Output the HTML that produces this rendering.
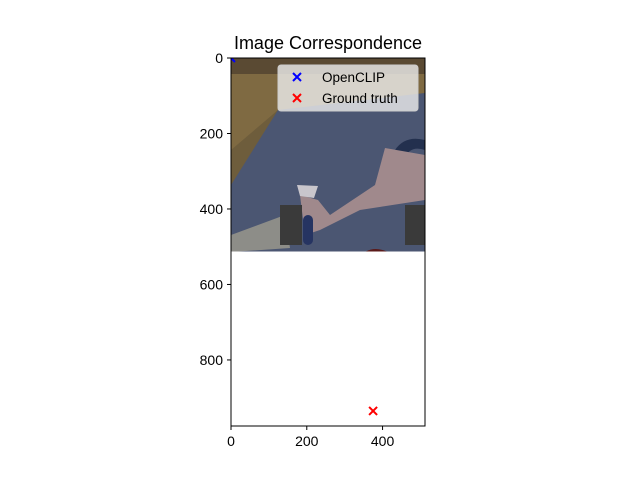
<!DOCTYPE html>
<html><head><meta charset="utf-8"><style>
body{margin:0;background:#fff}
svg{display:block;font-family:"Liberation Sans","DejaVu Sans",sans-serif}
</style></head><body>
<svg width="640" height="480" viewBox="0 0 640 480">
<defs><clipPath id="ax"><rect x="231" y="58" width="194" height="368"/></clipPath>
<clipPath id="ph"><rect x="231" y="58" width="194" height="193.5"/></clipPath></defs>
<rect width="640" height="480" fill="#fff"/>
<g clip-path="url(#ph)">
<rect x="231" y="58" width="194" height="194" fill="#6e5d3c"/>
<rect x="231" y="58" width="194" height="16" fill="#5a4a33"/>
<polygon points="231,74 425,74 425,93 278,110 231,150" fill="#7f6a42"/>
<polygon points="231,185 278,110 425,93 425,252 231,252" fill="#4b5672"/>
<path d="M395,150 Q405,135 425,140 L425,150 Q410,145 405,158 Z" fill="#23304e"/>
<polygon points="300,195 318,200 330,215 375,185 385,148 425,155 425,200 360,210 320,230 305,235" fill="#a0898c"/>
<polygon points="297,185 318,186 314,198 300,196" fill="#c9c6cc"/>
<rect x="303" y="215" width="10" height="30" rx="5" fill="#263462"/>
<polygon points="231,235 285,215 290,248 231,252" fill="#8d8d88"/>
<rect x="280" y="205" width="22" height="40" fill="#3a3a3a"/>
<rect x="405" y="205" width="20" height="40" fill="#3a3a3a"/>
<path d="M365,252 Q375,246 388,252 Z" fill="#5a1a1a"/>
</g>
<g clip-path="url(#ax)">
<g id="marks"></g>
</g>
<rect x="231" y="58" width="194" height="368" fill="none" stroke="#000" stroke-width="1"/>
<g id="ticks" font-size="14" fill="#000"></g>
<text x="328" y="49" font-size="18" text-anchor="middle">Image Correspondence</text>
<g>
<rect x="278" y="65" width="140" height="46" rx="3" fill="#eee" fill-opacity="0.8" stroke="#ccc"/>
<path d="M293,73 l8,8 M301,73 l-8,8" stroke="#00f" stroke-width="2"/>
<text x="322" y="82" font-size="13.5">OpenCLIP</text>
<path d="M293,94 l8,8 M301,94 l-8,8" stroke="#f00" stroke-width="2"/>
<text x="322" y="103" font-size="13.5">Ground truth</text>
</g>
</svg>
<script>
const xTicks=[0,200,400];
const yTicks=[0,200,400,600,800];
const seriesNames=["OpenCLIP","Ground truth"];
const seriesColors=["#00f","#f00"];
const pointsX=[0,375];
const pointsY=[0,935];
const xMax=512, yMax=975;
function sx(v){return 231+v*194/xMax;}
function sy(v){return 58+v*368/yMax;}
const NS="http://www.w3.org/2000/svg";
const marks=document.getElementById('marks');
for(let i=0;i<pointsX.length;i++){
  const x=sx(pointsX[i]), y=sy(pointsY[i]);
  const p=document.createElementNS(NS,'path');
  p.setAttribute('d',`M${x-4},${y-4} L${x+4},${y+4} M${x+4},${y-4} L${x-4},${y+4}`);
  p.setAttribute('stroke',seriesColors[i]);p.setAttribute('stroke-width','2');
  
  
  marks.appendChild(p);
}
const tg=document.getElementById('ticks');
xTicks.forEach(v=>{
  const x=sx(v);
  const l=document.createElementNS(NS,'line');
  l.setAttribute('x1',x);l.setAttribute('x2',x);l.setAttribute('y1',426);l.setAttribute('y2',430);l.setAttribute('stroke','#000');
  
  
  tg.appendChild(l);
  const t=document.createElementNS(NS,'text');
  t.setAttribute('x',x);t.setAttribute('y',446);t.setAttribute('text-anchor','middle');t.textContent=v;
  
  
  tg.appendChild(t);
});
yTicks.forEach(v=>{
  const y=sy(v);
  const l=document.createElementNS(NS,'line');
  l.setAttribute('x1',227);l.setAttribute('x2',231);l.setAttribute('y1',y);l.setAttribute('y2',y);l.setAttribute('stroke','#000');
  
  
  tg.appendChild(l);
  const t=document.createElementNS(NS,'text');
  t.setAttribute('x',223);t.setAttribute('y',y+5);t.setAttribute('text-anchor','end');t.textContent=v;
  
  
  tg.appendChild(t);
});
</script>
</body></html>
